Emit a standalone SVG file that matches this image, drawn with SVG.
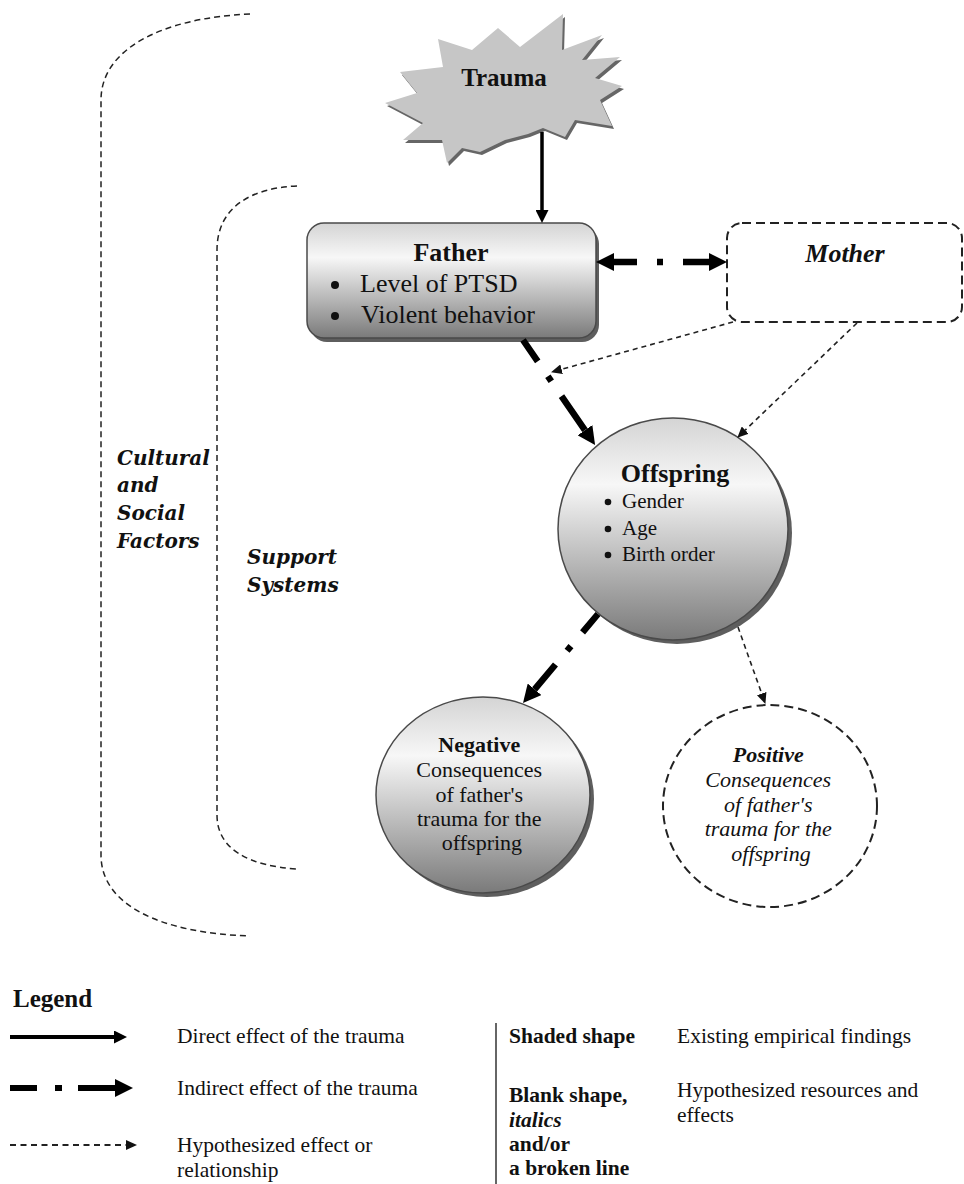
<svg xmlns="http://www.w3.org/2000/svg" width="964" height="1184" viewBox="0 0 964 1184">
<style>
  text { font-family: "Liberation Serif", "Times New Roman", serif; fill: #111; }
  .b { font-weight: bold; }
  .bi { font-weight: bold; font-style: italic; }
  .it { font-style: italic; }
  .side { font-family: "DejaVu Serif", "Liberation Serif", serif; font-weight: bold; font-style: italic; font-size: 20px; }
  .bracket { fill: none; stroke: #222; stroke-width: 1.5; stroke-dasharray: 6 4; }
  .shade { fill: url(#gShade); stroke: #4a4a4a; stroke-width: 1.5; }
  .shadow { fill: #5e5e5e; }
  .blank { fill: #fff; stroke: #222; stroke-width: 2; stroke-dasharray: 9 5; }
  .solid { fill: none; stroke: #000; stroke-width: 3.5; }
  .thick { fill: none; stroke: #000; stroke-width: 6.5; }
  .thin { fill: none; stroke: #222; stroke-width: 1.6; stroke-dasharray: 5 4; }
  .node { font-family: "Liberation Serif", "Times New Roman", serif; font-size: 26px; }
  .small { font-family: "Liberation Serif", "Times New Roman", serif; font-size: 21px; }
  .cons { font-size: 22px; }
  .leg { font-size: 21.5px; }
  .dot { fill: #111; }
</style>
<defs>
  <linearGradient id="gShade" x1="0" y1="0" x2="0" y2="1">
    <stop offset="0" stop-color="#d4d4d4"/>
    <stop offset="0.3" stop-color="#f7f7f7"/>
    <stop offset="1" stop-color="#7a7a7a"/>
  </linearGradient>
  <marker id="ahSolid" viewBox="0 0 10 10" refX="0" refY="5" markerWidth="13" markerHeight="13" markerUnits="userSpaceOnUse" orient="auto" preserveAspectRatio="none">
    <path d="M0,0 L10,5 L0,10 Z" fill="#000"/>
  </marker>
  <marker id="ahThick" viewBox="0 0 10 10" refX="0" refY="5" markerWidth="18" markerHeight="18" markerUnits="userSpaceOnUse" orient="auto-start-reverse" preserveAspectRatio="none">
    <path d="M0,0 L10,5 L0,10 Z" fill="#000"/>
  </marker>
  <marker id="ahThin" viewBox="0 0 10 10" refX="0" refY="5" markerWidth="11" markerHeight="10" markerUnits="userSpaceOnUse" orient="auto" preserveAspectRatio="none">
    <path d="M0,0 L10,5 L0,10 Z" fill="#111"/>
  </marker>
</defs>
<rect width="964" height="1184" fill="#fff"/>

<g id="cultural-social">
  <path class="bracket" d="M250,14 C160,18 101,50 101,100 L101,855 C101,905 160,933 250,936"/>
  <text class="side" x="117" y="465">Cultural</text>
  <text class="side" x="117" y="492">and</text>
  <text class="side" x="117" y="520">Social</text>
  <text class="side" x="117" y="548">Factors</text>
</g>

<g id="support-systems">
  <path class="bracket" d="M297,186 C250,188 217,208 217,250 L217,815 C217,850 250,866 297,869"/>
  <text class="side" x="247" y="564">Support</text>
  <text class="side" x="247" y="592">Systems</text>
</g>

<g id="trauma">
  <polygon transform="translate(2,3)" fill="#666" points="385,103 417,93 400,72 443,67 438,39 472,50 498,28 520,47 563,14 562,50 602,35 582,60 620,57 595,78 622,86 600,100 612,126 575,120 565,137 543,128 528,134 505,140 480,152 462,148 447,163 442,140 403,140 423,123"/>
  <polygon fill="#c6c6c6" points="385,103 417,93 400,72 443,67 438,39 472,50 498,28 520,47 563,14 562,50 602,35 582,60 620,57 595,78 622,86 600,100 612,126 575,120 565,137 543,128 528,134 505,140 480,152 462,148 447,163 442,140 403,140 423,123"/>
  <text class="b" x="504" y="86" font-size="25" text-anchor="middle">Trauma</text>
</g>

<g id="father">
  <rect class="shadow" x="310" y="227" width="289" height="115" rx="17"/>
  <rect class="shade" x="307" y="223" width="289" height="115" rx="17"/>
  <text class="node b" x="451" y="261" text-anchor="middle">Father</text>
  <circle class="dot" cx="335" cy="285" r="4"/>
  <text class="node" x="360" y="292">Level of PTSD</text>
  <circle class="dot" cx="335" cy="316" r="4"/>
  <text class="node" x="361" y="323">Violent behavior</text>
</g>

<g id="mother">
  <rect class="blank" x="727" y="223" width="235" height="99" rx="15"/>
  <text class="node bi" x="845" y="262" font-size="25" text-anchor="middle">Mother</text>
</g>

<g id="offspring">
  <ellipse class="shadow" cx="677" cy="533" rx="115" ry="111"/>
  <ellipse class="shade" cx="673" cy="529" rx="115" ry="111"/>
  <text class="node b" x="675" y="482" text-anchor="middle">Offspring</text>
  <circle class="dot" cx="608" cy="502" r="3.3"/>
  <text class="small" x="622" y="508">Gender</text>
  <circle class="dot" cx="608" cy="529" r="3.3"/>
  <text class="small" x="622" y="535">Age</text>
  <circle class="dot" cx="608" cy="555" r="3.3"/>
  <text class="small" x="622" y="561">Birth order</text>
</g>

<g id="negative">
  <ellipse class="shadow" cx="487" cy="799" rx="107" ry="98"/>
  <ellipse class="shade" cx="483" cy="795" rx="107" ry="98"/>
  <text class="cons" text-anchor="middle">
    <tspan class="b" x="482" y="752">Negative</tspan>
    <tspan x="482" y="777">Consequences</tspan>
    <tspan x="482" y="802">of father's</tspan>
    <tspan x="482" y="826">trauma for the</tspan>
    <tspan x="482" y="850">offspring</tspan>
  </text>
</g>

<g id="positive">
  <ellipse class="blank" cx="770" cy="806" rx="107" ry="101"/>
  <text class="cons it" text-anchor="middle">
    <tspan class="bi" x="771" y="762">Positive</tspan>
    <tspan x="771" y="787">Consequences</tspan>
    <tspan x="771" y="812">of father's</tspan>
    <tspan x="771" y="836">trauma for the</tspan>
    <tspan x="771" y="861">offspring</tspan>
  </text>
</g>

<g id="connectors">
  <path class="solid" d="M542,132 L542,210" marker-end="url(#ahSolid)"/>
  <path class="thick" d="M614,262 L709,262" stroke-dasharray="23 20 6 20 40" marker-start="url(#ahThick)" marker-end="url(#ahThick)"/>
  <path class="thick" d="M523,340 L584.9,430.2" stroke-dasharray="26 18 6 18 80" marker-end="url(#ahThick)"/>
  <path class="thin" d="M733,322 L561.6,369.3" marker-end="url(#ahThin)"/>
  <path class="thin" d="M857,323 L745.2,430.1" marker-end="url(#ahThin)"/>
  <path class="thick" d="M598,614 L534.6,689.3" stroke-dasharray="24 18 6 18 80" marker-end="url(#ahThick)"/>
  <path class="thin" d="M738,627 L761.7,693.6" marker-end="url(#ahThin)"/>
</g>

<g id="legend">
  <text class="b" x="13" y="1007" font-size="25">Legend</text>
  <path d="M10,1037 L114,1037" fill="none" stroke="#000" stroke-width="4" marker-end="url(#ahSolid)"/>
  <text class="leg" x="177" y="1043">Direct effect of the trauma</text>
  <path d="M10,1088 L115,1088" fill="none" stroke="#000" stroke-width="6" stroke-dasharray="27 18 7 16 40" marker-end="url(#ahThick)"/>
  <text class="leg" x="177" y="1095">Indirect effect of the trauma</text>
  <path d="M10,1145 L126,1145" fill="none" stroke="#222" stroke-width="1.8" stroke-dasharray="6 4.5" marker-end="url(#ahThin)"/>
  <text class="leg" x="177" y="1152">Hypothesized effect or</text>
  <text class="leg" x="177" y="1177">relationship</text>
  <line x1="496" y1="1023" x2="496" y2="1184" stroke="#333" stroke-width="1.5"/>
  <text class="leg b" x="509" y="1043">Shaded shape</text>
  <text class="leg" x="677" y="1043">Existing empirical findings</text>
  <text class="leg b" x="509" y="1102">Blank shape,</text>
  <text class="leg bi" x="509" y="1127">italics</text>
  <text class="leg b" x="509" y="1151">and/or</text>
  <text class="leg b" x="509" y="1175">a broken line</text>
  <text class="leg" x="677" y="1097">Hypothesized resources and</text>
  <text class="leg" x="677" y="1122">effects</text>
</g>
</svg>
